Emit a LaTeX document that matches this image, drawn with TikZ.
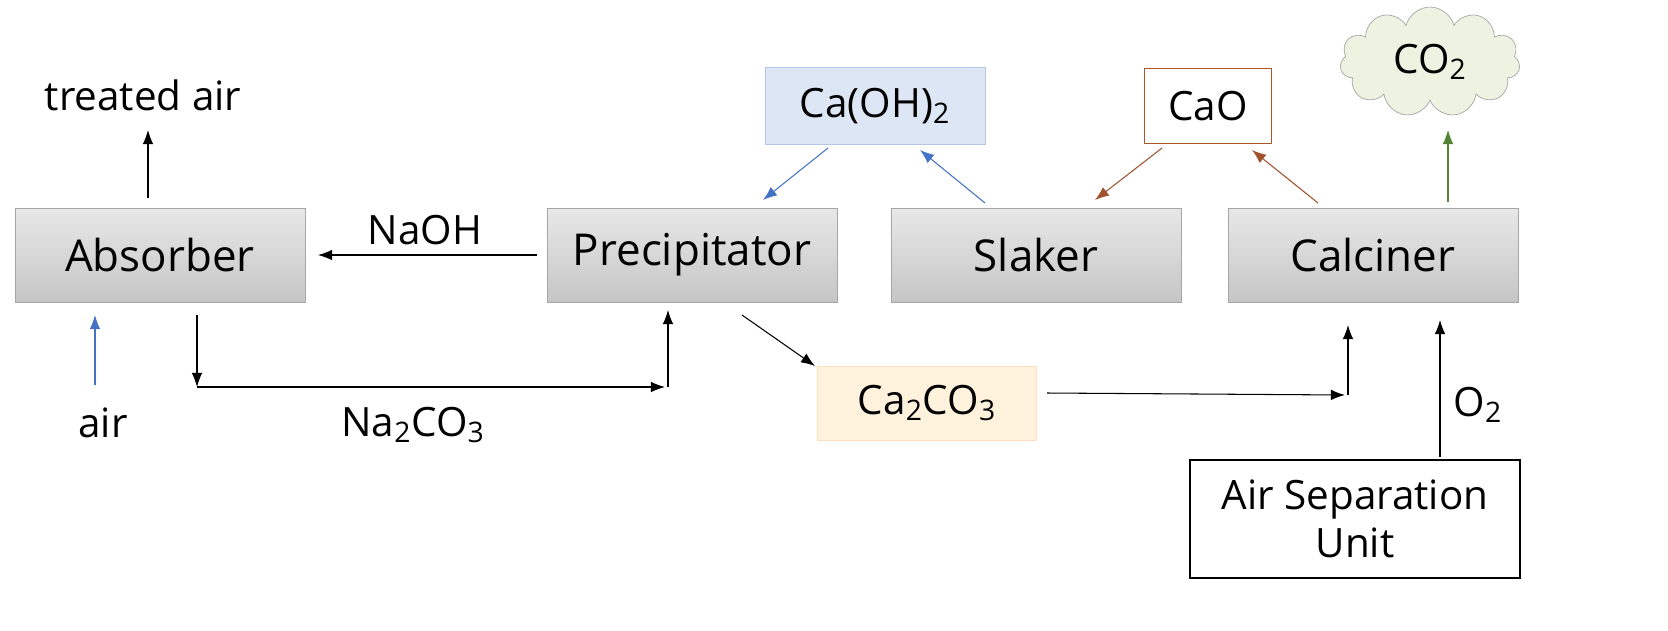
\documentclass[tikz,border=0pt]{standalone}
\usepackage{fontspec}
\setmainfont{Open Sans}
\usetikzlibrary{shapes.symbols,arrows.meta}
\definecolor{bl}{HTML}{4472C4}
\definecolor{br}{HTML}{A0522D}
\definecolor{gr}{HTML}{548235}
\begin{document}
\begin{tikzpicture}[x=0.02cm,y=-0.02cm,
 every node/.style={font=\fontsize{23}{27}\selectfont},
 unit/.style={draw=gray!70,top color=gray!18,bottom color=gray!45,minimum width=5.8cm,minimum height=1.88cm,font=\fontsize{25}{29}\selectfont},
 arr/.style={-{Latex[length=8pt,width=6pt]},line width=0.6pt},
 lbl/.style={inner sep=0pt}]
\useasboundingbox (0,0) rectangle (1668,630);
\node[unit] (abs) at (160,255) {Absorber};
\node[unit] (pre) at (692,255) {Precipitator};
\node[unit] (sla) at (1036,255) {Slaker};
\node[unit] (cal) at (1373,255) {Calciner};
\node[draw=bl!40,fill=bl!18,minimum width=4.4cm,minimum height=1.54cm] (oh) at (875,106) {Ca(OH)\textsubscript{2}};
\node[draw=br!90!orange,line width=1pt,fill=white,minimum width=2.54cm,minimum height=1.5cm] (cao) at (1208,106) {CaO};
\node[cloud,cloud puffs=11,aspect=1.6,draw=gray!70,fill=green!12!olive!12,minimum width=3.6cm,minimum height=2.2cm] (co2) at (1430,62) {CO\textsubscript{2}};
\node[draw=orange!25,fill=yellow!22!orange!12,minimum width=4.38cm,minimum height=1.48cm] (cc) at (927,403) {Ca\textsubscript{2}CO\textsubscript{3}};
\node[draw,line width=0.8pt,minimum width=6.6cm,minimum height=2.36cm,align=center] (asu) at (1355,519) {Air Separation\\Unit};
\node[lbl] (ta) at (143,95) {treated air};
\node[lbl] (air) at (103,423) {air};
\node[lbl] (naoh) at (425,230) {NaOH};
\node[lbl] (na2) at (413,425) {Na\textsubscript{2}CO\textsubscript{3}};
\node[lbl] (o2) at (1478,405) {O\textsubscript{2}};
\coordinate (a1) at (148,198); \coordinate (a2) at (148,130);
\draw[arr] (a1)--(a2);
\coordinate (b1) at (95,385); \coordinate (b2) at (95,315);
\draw[arr,bl] (b1)--(b2);
\coordinate (n1) at (537,255); \coordinate (n2) at (318,255);
\draw[arr] (n1)--(n2);
\coordinate (c1) at (197,315); \coordinate (c2) at (197,387); \coordinate (c3) at (665,387); \coordinate (c4) at (668,387); \coordinate (c5) at (668,310);
\draw[arr] (c1)--(c2); \draw[arr] (c2)--(c3); \draw[arr] (c4)--(c5);
\coordinate (p1) at (742,315); \coordinate (p2) at (815,366);
\draw[arr] (p1)--(p2);
\coordinate (d1) at (1047,393); \coordinate (d2) at (1345,395); \coordinate (d3) at (1348,395); \coordinate (d4) at (1348,325);
\draw[arr] (d1)--(d2); \draw[arr] (d3)--(d4);
\coordinate (e1) at (1440,457); \coordinate (e2) at (1440,320);
\draw[arr] (e1)--(e2);
\coordinate (f1) at (1448,202); \coordinate (f2) at (1448,130);
\draw[arr,gr] (f1)--(f2);
\coordinate (g1) at (1318,203); \coordinate (g2) at (1252,150);
\draw[arr,br] (g1)--(g2);
\coordinate (h1) at (1162,148); \coordinate (h2) at (1095,200);
\draw[arr,br] (h1)--(h2);
\coordinate (i1) at (985,203); \coordinate (i2) at (920,150);
\draw[arr,bl] (i1)--(i2);
\coordinate (j1) at (828,148); \coordinate (j2) at (763,200);
\draw[arr,bl] (j1)--(j2);
\end{tikzpicture}
\end{document}
